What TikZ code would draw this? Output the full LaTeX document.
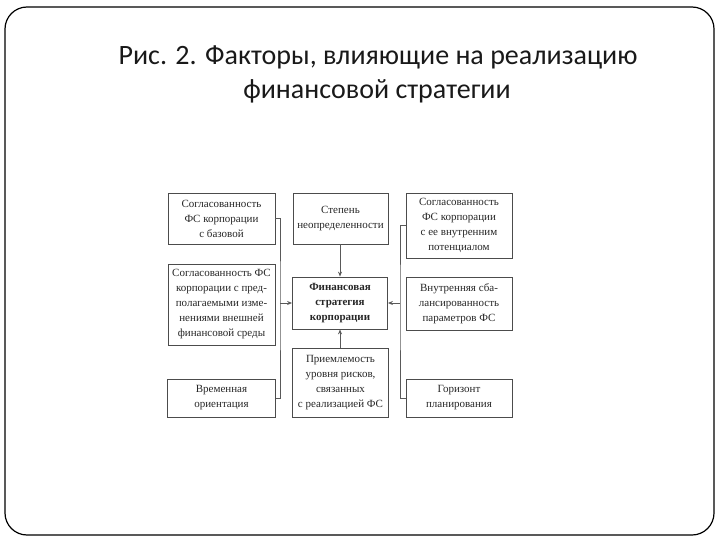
\documentclass[tikz,border=0pt]{standalone}
\usepackage{fontspec}
\setmainfont{Liberation Serif}
\newfontfamily\titlefont{Carlito}
\usetikzlibrary{arrows.meta}
\tikzset{
  box/.style={draw=black!70, line width=0.8pt, inner sep=0pt, align=center,
    font=\fontsize{11}{15}\selectfont, text=black!85},
  conn/.style={draw=black!65, line width=0.8pt},
  arr/.style={conn, -{Stealth[length=5pt,width=4pt]}},
  ttl/.style={font=\titlefont\fontsize{28}{35}\selectfont, text=black!90, anchor=base}
}
\begin{document}
\begin{tikzpicture}[x=1pt,y=-1pt]
\useasboundingbox (0,0) rectangle (720,540);
\draw[black, line width=1.2pt, rounded corners=22pt] (5,7) rectangle (714,535);
\node[ttl] (t1) at (378,65) {Рис. 2. Факторы, влияющие на реализацию};
\node[ttl] (t2) at (377,99) {финансовой стратегии};

\node[box, minimum width=107pt, minimum height=51pt] (L1) at (221.5,218.5)
  {Согласованность\\ФС корпорации\\с базовой};
\node[box, minimum width=107pt, minimum height=81pt] (L2) at (221.5,304.5)
  {Согласованность ФС\\корпорации с пред-\\полагаемыми изме-\\нениями внешней\\финансовой среды};
\node[box, minimum width=108pt, minimum height=38pt] (L3) at (221.5,398)
  {Временная\\ориентация};

\node[box, minimum width=95pt, minimum height=51pt] (M1) at (340.5,218.5)
  {Степень\\неопределенности};
\node[box, minimum width=95pt, minimum height=52pt, font=\fontsize{11}{15}\selectfont\bfseries] (C) at (340,303)
  {Финансовая\\стратегия\\корпорации};
\node[box, minimum width=96pt, minimum height=69pt] (M3) at (340.5,382.5)
  {Приемлемость\\уровня рисков,\\связанных\\с реализацией ФС};

\node[box, minimum width=106pt, minimum height=65pt] (R1) at (459,225.5)
  {Согласованность\\ФС корпорации\\с ее внутренним\\потенциалом};
\node[box, minimum width=106pt, minimum height=53pt] (R2) at (459,303.5)
  {Внутренняя сба-\\лансированность\\параметров ФС};
\node[box, minimum width=106pt, minimum height=38pt] (R3) at (459,398)
  {Горизонт\\планирования};

\coordinate (lj) at (280,303);
\coordinate (rj) at (400,303);
\draw[conn] (L1.east) -| (lj) |- (L3.east);
\draw[arr] (lj) -- (C.west);
\draw[conn] (R1.west) -| (rj) |- (R3.west);
\draw[arr] (rj) -- (C.east);
\draw[arr] (M1.south -| C.north) -- (C.north);
\draw[arr] (M3.north -| C.south) -- (C.south);
\end{tikzpicture}
\end{document}
